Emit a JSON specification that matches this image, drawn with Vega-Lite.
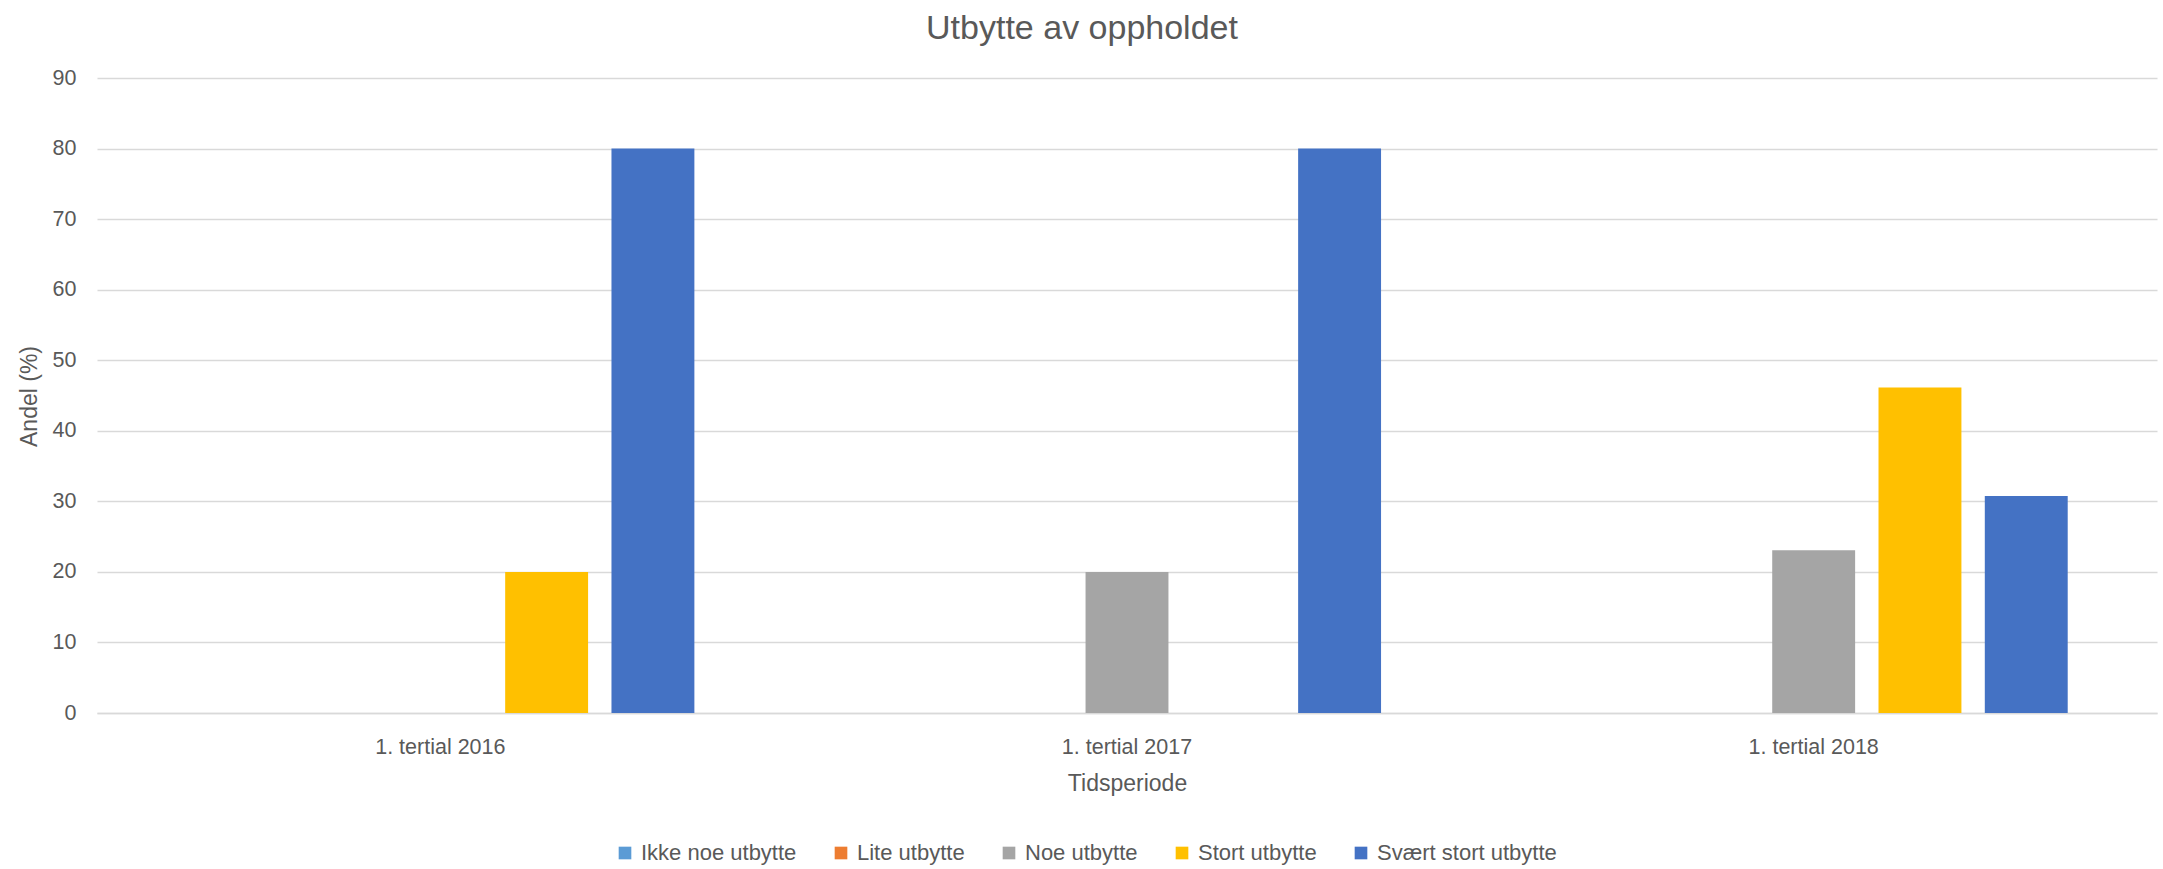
{
  "$schema": "https://vega.github.io/schema/vega-lite/v6.json",
  "autosize": {"type": "none"},
  "width": 2060,
  "height": 635,
  "padding": {"left": 97, "top": 78, "right": 6, "bottom": 156},
  "background": "white",
  "title": {
    "text": "Utbytte av oppholdet",
    "anchor": "middle",
    "frame": "group",
    "dx": -45,
    "offset": -6,
    "baseline": "alphabetic",
    "font": "Liberation Sans",
    "fontSize": 34,
    "fontWeight": "normal",
    "color": "#595959"
  },
  "config": {
    "view": {"stroke": null},
    "font": "Liberation Sans",
    "axis": {
      "labelFont": "Liberation Sans",
      "titleFont": "Liberation Sans",
      "labelColor": "#595959",
      "titleColor": "#595959",
      "titleFontWeight": "normal",
      "labelFontSize": 21.5,
      "titleFontSize": 23
    },
    "legend": {
      "labelFont": "Liberation Sans",
      "labelColor": "#595959",
      "labelFontSize": 22,
      "labelLimit": 500
    }
  },
  "data": {
    "values": [
      {"periode": "1. tertial 2016", "kategori": "Ikke noe utbytte", "andel": 0},
      {"periode": "1. tertial 2016", "kategori": "Lite utbytte", "andel": 0},
      {"periode": "1. tertial 2016", "kategori": "Noe utbytte", "andel": 0},
      {"periode": "1. tertial 2016", "kategori": "Stort utbytte", "andel": 20},
      {"periode": "1. tertial 2016", "kategori": "Svært stort utbytte", "andel": 80},
      {"periode": "1. tertial 2017", "kategori": "Ikke noe utbytte", "andel": 0},
      {"periode": "1. tertial 2017", "kategori": "Lite utbytte", "andel": 0},
      {"periode": "1. tertial 2017", "kategori": "Noe utbytte", "andel": 20},
      {"periode": "1. tertial 2017", "kategori": "Stort utbytte", "andel": 0},
      {"periode": "1. tertial 2017", "kategori": "Svært stort utbytte", "andel": 80},
      {"periode": "1. tertial 2018", "kategori": "Ikke noe utbytte", "andel": 0},
      {"periode": "1. tertial 2018", "kategori": "Lite utbytte", "andel": 0},
      {"periode": "1. tertial 2018", "kategori": "Noe utbytte", "andel": 23.08},
      {"periode": "1. tertial 2018", "kategori": "Stort utbytte", "andel": 46.15},
      {"periode": "1. tertial 2018", "kategori": "Svært stort utbytte", "andel": 30.77}
    ]
  },
  "mark": {"type": "bar"},
  "encoding": {
    "x": {
      "field": "periode",
      "type": "nominal",
      "scale": {"paddingInner": 0.226, "paddingOuter": 0.113},
      "axis": {
        "title": "Tidsperiode",
        "labelAngle": 0,
        "ticks": false,
        "labelPadding": 23,
        "domain": true,
        "domainColor": "#D9D9D9",
        "domainWidth": 1.5,
        "titleY": 77,
        "titleBaseline": "alphabetic"
      }
    },
    "xOffset": {
      "field": "kategori",
      "type": "nominal",
      "sort": ["Ikke noe utbytte", "Lite utbytte", "Noe utbytte", "Stort utbytte", "Svært stort utbytte"],
      "scale": {"paddingInner": 0.22, "paddingOuter": 0.11}
    },
    "y": {
      "field": "andel",
      "type": "quantitative",
      "scale": {"domain": [0, 90], "nice": false},
      "axis": {
        "title": "Andel (%)",
        "values": [0, 10, 20, 30, 40, 50, 60, 70, 80, 90],
        "ticks": false,
        "domain": false,
        "labelPadding": 21,
        "gridColor": "#D9D9D9",
        "gridWidth": 1.5,
        "titleX": -68,
        "titleY": 318,
        "titleAngle": -90,
        "titleBaseline": "middle",
        "titleAlign": "center"
      }
    },
    "color": {
      "field": "kategori",
      "type": "nominal",
      "scale": {
        "domain": ["Ikke noe utbytte", "Lite utbytte", "Noe utbytte", "Stort utbytte", "Svært stort utbytte"],
        "range": ["#5B9BD5", "#ED7D31", "#A5A5A5", "#FFC000", "#4472C4"]
      },
      "legend": {
        "title": null,
        "orient": "none",
        "direction": "horizontal",
        "columns": 5,
        "legendX": 517,
        "legendY": 764,
        "padding": 0,
        "symbolType": "square",
        "symbolSize": 160,
        "symbolStrokeWidth": 0,
        "labelOffset": 5,
        "columnPadding": 33
      }
    }
  }
}
